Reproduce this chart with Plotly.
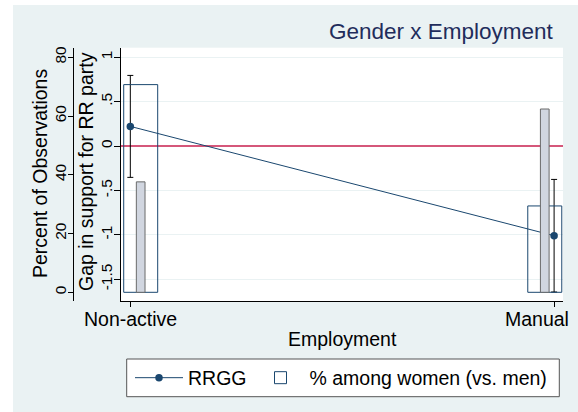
import plotly.graph_objects as go

# ---- data ----
categories = ["Non-active", "Manual"]
cat_pos = [0, 1]
rrgg_gap = [0.222, -1.009]
rrgg_ci = [0.574, 0.634]
pct_women = [70.7, 29.4]
pct_men = [37.6, 62.4]
gap_ticks = [-1.5, -1, -0.5, 0, 0.5, 1]
gap_tick_labels = ["-1.5", "-1", "-.5", "0", ".5", "1"]
pct_ticks = [0, 20, 40, 60, 80]
pct_tick_labels = ["0", "20", "40", "60", "80"]

W, H = 578, 412
BG = "#EAF2F3"
NAVY = "#1A476F"
FONT = "Liberation Sans, Arial, Helvetica, sans-serif"

def px_x(v):
    return v / W

def px_y(v):
    return 1 - v / H

plot_l, plot_r, plot_t, plot_b = 121, 563, 47.7, 301

# bar placement (style): bars sit inward of each category tick
women_bar_offset = [-0.0156, -0.0621]
men_bar_offset = [0.0142, -0.0323]

# category label placement (style): the last label is kept inside the graph region
label_anchor = ["center", "right"]
label_shift = [0, 17]

fig = go.Figure()

fig.add_trace(go.Scatter(
    x=cat_pos, y=rrgg_gap, name="RRGG", mode="lines+markers",
    line=dict(color=NAVY, width=1),
    marker=dict(color=NAVY, size=7.5),
    error_y=dict(type="data", array=rrgg_ci, color="black", thickness=1, width=3),
    yaxis="y",
))

fig.add_trace(go.Bar(
    x=cat_pos, y=pct_women, name="% among women (vs. men)",
    width=0.0802, offset=women_bar_offset,
    marker=dict(color="rgba(255,255,255,0)", line=dict(color=NAVY, width=1)),
    yaxis="y2",
))

fig.add_trace(go.Bar(
    x=cat_pos, y=pct_men, name="% among men", showlegend=False,
    width=0.0205, offset=men_bar_offset,
    marker=dict(color="#D1D6E0", line=dict(color="#6A6A6A", width=1)),
    yaxis="y2",
))

shapes = [
    dict(type="rect", xref="paper", yref="paper", x0=0, x1=px_x(13), y0=0, y1=1,
         fillcolor="white", line=dict(width=0), layer="below"),
    dict(type="rect", xref="paper", yref="paper", x0=0, x1=1, y0=px_y(5), y1=1,
         fillcolor="white", line=dict(width=0), layer="below"),
    dict(type="rect", xref="paper", yref="paper", x0=px_x(126.7), x1=px_x(559.3),
         y0=px_y(396.7), y1=px_y(359), fillcolor="white",
         line=dict(color="#555555", width=1), layer="below"),
]

annotations = [
    dict(text="Gender x Employment", xref="paper", yref="paper", x=px_x(556), y=px_y(32),
         xanchor="right", yanchor="middle", showarrow=False,
         font=dict(size=22.5, color="#1F2D5C", family=FONT)),
    dict(text="Percent of Observations", xref="paper", yref="paper", x=px_x(40), y=px_y(174),
         xanchor="center", yanchor="middle", textangle=-90, showarrow=False,
         font=dict(size=19.5, color="black", family=FONT)),
    dict(text="Gap in support for RR party", xref="paper", yref="paper", x=px_x(86), y=px_y(172),
         xanchor="center", yanchor="middle", textangle=-90, showarrow=False,
         font=dict(size=19.5, color="black", family=FONT)),
    dict(text="Employment", xref="paper", yref="paper", x=px_x(342), y=px_y(339),
         xanchor="center", yanchor="middle", showarrow=False,
         font=dict(size=19.5, color="black", family=FONT)),
]
for pos, lab, anc, sh in zip(cat_pos, categories, label_anchor, label_shift):
    annotations.append(dict(text=lab, xref="x", yref="paper", x=pos, y=px_y(318.5),
                            xanchor=anc, yanchor="middle", xshift=sh, showarrow=False,
                            font=dict(size=19.5, color="black", family=FONT)))

fig.update_layout(
    template="none",
    width=W, height=H, autosize=False,
    margin=dict(l=0, r=0, t=0, b=0, pad=0),
    paper_bgcolor=BG, plot_bgcolor="white",
    font=dict(family=FONT, color="black"),
    barmode="overlay",
    showlegend=True,
    legend=dict(orientation="h", x=px_x(130), y=px_y(378), xanchor="left", yanchor="middle",
                bgcolor="rgba(0,0,0,0)", borderwidth=0, itemwidth=48,
                font=dict(size=19.5, color="black", family=FONT), tracegroupgap=0),
    xaxis=dict(domain=[px_x(plot_l), px_x(plot_r)], range=[-0.022, 1.021],
               tickvals=cat_pos, showticklabels=False, ticks="outside", ticklen=5,
               tickcolor="black", showline=True, linecolor="black", linewidth=1,
               showgrid=False, zeroline=False, anchor="y", automargin=False),
    yaxis=dict(domain=[px_y(plot_b), px_y(plot_t)], range=[-1.744, 1.108],
               tickvals=gap_ticks, ticktext=gap_tick_labels, tickangle=-90,
               ticks="outside", ticklen=6, tickcolor="black",
               showline=True, linecolor="black", linewidth=1,
               showgrid=True, gridcolor=BG, gridwidth=1,
               zeroline=True, zerolinecolor="#D5577A", zerolinewidth=1.6,
               anchor="x", side="left", automargin=False,
               ticklabelstandoff=-4,
               tickfont=dict(size=15.5, color="black", family=FONT)),
    yaxis2=dict(range=[-2.96, 83.27], overlaying="y", anchor="free",
                position=px_x(73), side="left", automargin=False,
                tickvals=pct_ticks, ticktext=pct_tick_labels, tickangle=-90,
                ticks="outside", ticklen=5, tickcolor="black",
                showline=True, linecolor="black", linewidth=1,
                showgrid=False, zeroline=False, ticklabelstandoff=-4,
                tickfont=dict(size=15.5, color="black", family=FONT)),
    shapes=shapes,
    annotations=annotations,
)

fig.write_html("out.html", config={"displayModeBar": False},
               post_script="document.body.style.margin='0';")
